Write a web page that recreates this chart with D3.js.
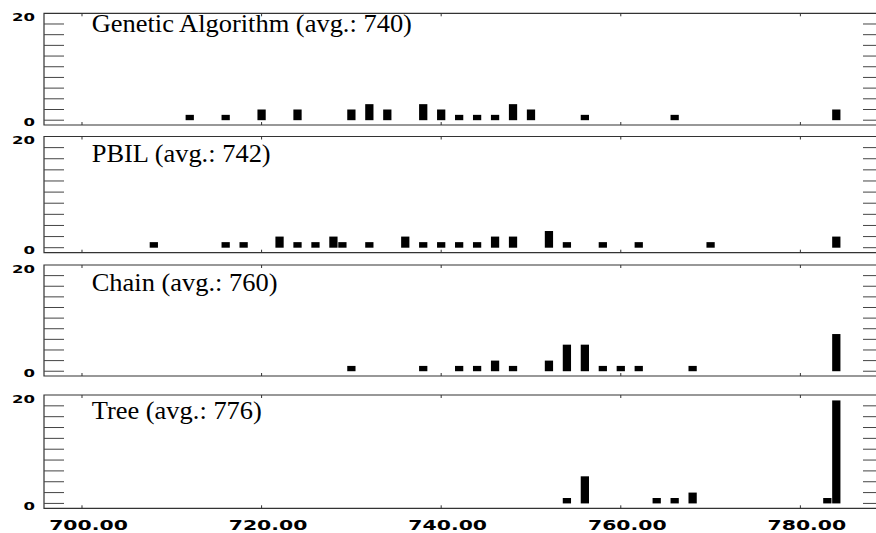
<!DOCTYPE html>
<html>
<head>
<meta charset="utf-8">
<script src="https://cdn.jsdelivr.net/npm/d3@7"></script>
<style>
body { margin: 0; background: #fff; overflow: hidden; }
svg { display: block; overflow: hidden; }
</style>
</head>
<body>
<script>
var names = ["Genetic Algorithm", "PBIL", "Chain", "Tree"];
var avgs = [740, 742, 760, 776];

var gaValues = [712, 716, 720, 724, 730, 732, 734, 738, 740, 742, 744, 746, 748, 750, 756, 766, 784];
var gaCounts = [1, 1, 2, 2, 2, 3, 2, 3, 2, 1, 1, 1, 3, 2, 1, 1, 2];

var pbilValues = [708, 716, 718, 722, 724, 726, 728, 729, 732, 736, 738, 740, 742, 744, 746, 748, 752, 754, 758, 762, 770, 784];
var pbilCounts = [1, 1, 1, 2, 1, 1, 2, 1, 1, 2, 1, 1, 1, 1, 2, 2, 3, 1, 1, 1, 1, 2];

var chainValues = [730, 738, 742, 744, 746, 748, 752, 754, 756, 758, 760, 762, 768, 784];
var chainCounts = [1, 1, 1, 1, 2, 1, 2, 5, 5, 1, 1, 1, 1, 7];

var treeValues = [754, 756, 764, 766, 768, 783, 784];
var treeCounts = [1, 5, 1, 1, 2, 1, 19];

var xTicks = [700, 720, 740, 760, 780];
var yTicks = [0, 2, 4, 6, 8, 10, 12, 14, 16, 18];
var yLabels = [0, 20];

var allValues = [gaValues, pbilValues, chainValues, treeValues];
var allCounts = [gaCounts, pbilCounts, chainCounts, treeCounts];

// panel layout (pixels)
var panelTop = [13.3, 136.5, 265, 395];
var panelBottom = [125, 252.7, 376, 508.3];
var titleBase = [31.7, 161.5, 290.5, 419];
var left = 44, right = 883;
var frameColor = "#333";

var svg = d3.select("body")
	.append("svg")
	.attr("width", 876)
	.attr("height", 533)

var x = d3.scaleLinear()
	.domain([695.77, 789.2])
	.range([left, right]);

function drawPanel(i) {
	var y = d3.scaleLinear()
		.domain([-0.9, 20])
		.range([panelBottom[i], panelTop[i]]);
	var g = svg.append("g").attr("class", "panel");

	var bars = allValues[i].map((v, j) => ({value: v, count: allCounts[i][j]}));
	g.selectAll(".bar")
		.data(bars)
		.enter().append("rect")
		.attr("class", "bar")
		.attr("x", d => x(d.value - 0.46))
		.attr("width", d => x(d.value + 0.46) - x(d.value - 0.46))
		.attr("y", d => y(d.count))
		.attr("height", d => y(0) - y(d.count))
		.style("fill", "#000")

	// frame: right edge lies outside the picture
	g.append("path")
		.attr("d", `M${right},${panelTop[i]}H${left}V${panelBottom[i]}H${right}`)
		.style("fill", "none")
		.style("stroke", frameColor)
		.style("stroke-width", 1.2)

	// y minor ticks, both sides
	g.selectAll(".ytl")
		.data(yTicks)
		.enter().append("line")
		.attr("x1", left).attr("x2", left + 20)
		.attr("y1", d => y(d)).attr("y2", d => y(d))
		.style("stroke", "#444")
	g.selectAll(".ytr")
		.data(yTicks)
		.enter().append("line")
		.attr("x1", right - 20).attr("x2", right)
		.attr("y1", d => y(d)).attr("y2", d => y(d))
		.style("stroke", "#444")

	// x ticks top and bottom
	g.selectAll(".xtt")
		.data(xTicks)
		.enter().append("line")
		.attr("x1", d => x(d)).attr("x2", d => x(d))
		.attr("y1", panelTop[i]).attr("y2", panelTop[i] + 3)
		.style("stroke", frameColor)
	g.selectAll(".xtb")
		.data(xTicks)
		.enter().append("line")
		.attr("x1", d => x(d)).attr("x2", d => x(d))
		.attr("y1", panelBottom[i]).attr("y2", panelBottom[i] - 3)
		.style("stroke", frameColor)

	g.selectAll(".ylab")
		.data(yLabels)
		.enter().append("text")
		.attr("transform", d => `translate(35,${y(d) + (d == 0 ? 2.3 : 4)}) scale(1.5,1)`)
		.attr("text-anchor", "end")
		.attr("dominant-baseline", "central")
		.attr("font-family", "DejaVu Sans")
		.attr("font-weight", "bold")
		.attr("font-size", "11px")
		.text(d => d)

	g.append("text")
		.attr("transform", `translate(91.7,${titleBase[i]}) scale(1.08,1)`)
		.attr("font-family", "Liberation Serif, Times New Roman, serif")
		.attr("font-size", "24.5px")
		.attr("fill", "#000")
		.text(names[i] + " (avg.: " + avgs[i] + ")")
}

for (var i = 0; i < 4; i++) {
	drawPanel(i);
}

svg.selectAll(".xlab")
	.data(xTicks)
	.enter().append("text")
	.attr("transform", d => `translate(${x(d) + 6.5},530) scale(1.5,1)`)
	.attr("text-anchor", "middle")
	.attr("font-family", "DejaVu Sans")
	.attr("font-weight", "bold")
	.attr("font-size", "13.6px")
	.text(d => d3.format(".2f")(d))
</script>
</body>
</html>
